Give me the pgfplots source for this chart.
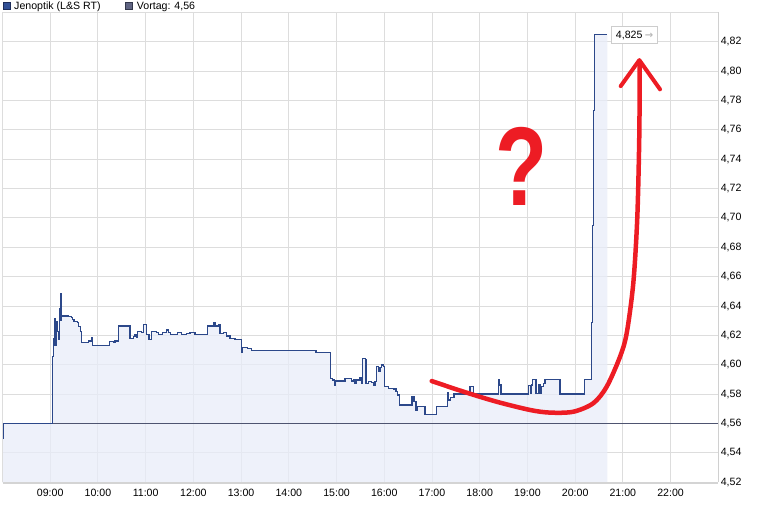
\documentclass[border=0pt]{standalone}
\usepackage{pgfplots}
\pgfplotsset{compat=1.18}
\usepackage{pgfplotstable}
\usepackage{fontspec}
\setmainfont{Liberation Sans}
\newfontfamily\dejavu{DejaVu Sans}
\definecolor{lineblue}{RGB}{44,72,138}
\definecolor{fillblue}{RGB}{232,236,248}
\definecolor{vortag}{RGB}{78,84,112}
\definecolor{gridgray}{RGB}{221,221,221}
\definecolor{rightgray}{RGB}{208,208,208}
\definecolor{bottomgray}{RGB}{212,212,212}
\definecolor{annred}{RGB}{237,28,36}
\definecolor{boxgray}{RGB}{205,205,205}
\definecolor{arrowgray}{RGB}{185,185,185}
\definecolor{sqone}{RGB}{50,80,150}
\definecolor{sqoneb}{RGB}{30,45,90}
\definecolor{sqtwo}{RGB}{95,100,130}
\definecolor{sqtwob}{RGB}{50,55,75}

\pgfplotstableread{
x y
8.000 4.5500
8.010 4.5600
9.045 4.6055
9.066 4.6180
9.087 4.6316
9.101 4.6134
9.122 4.6293
9.149 4.6225
9.170 4.6169
9.191 4.6384
9.212 4.6486
9.226 4.6305
9.240 4.6332
9.380 4.6328
9.450 4.6323
9.471 4.6309
9.499 4.6293
9.569 4.6287
9.589 4.6260
9.639 4.6225
9.659 4.6150
9.799 4.6162
9.869 4.6187
9.890 4.6134
10.239 4.6157
10.323 4.6150
10.358 4.6162
10.428 4.6264
10.672 4.6180
10.742 4.6191
10.777 4.6203
10.812 4.6185
10.833 4.6225
10.917 4.6219
10.952 4.6275
11.022 4.6203
11.070 4.6173
11.126 4.6225
11.231 4.6219
11.266 4.6207
11.357 4.6219
11.441 4.6237
11.475 4.6219
11.525 4.6209
11.664 4.6220
11.755 4.6203
11.860 4.6214
11.930 4.6219
12.034 4.6209
12.293 4.6264
12.418 4.6287
12.453 4.6264
12.523 4.6275
12.558 4.6214
12.628 4.6220
12.698 4.6196
12.768 4.6180
12.873 4.6169
13.012 4.6083
13.033 4.6119
13.131 4.6112
13.222 4.6100
14.570 4.6085
14.877 4.5908
14.919 4.5896
14.954 4.5862
14.982 4.5889
15.177 4.5908
15.317 4.5889
15.352 4.5901
15.387 4.5874
15.422 4.5896
15.492 4.5912
15.527 4.5874
15.548 4.6044
15.604 4.6037
15.617 4.5874
15.666 4.5885
15.736 4.5880
15.771 4.5862
15.806 4.5885
15.841 4.5987
15.876 4.5953
15.911 4.5980
15.946 4.5998
15.980 4.5987
16.001 4.5851
16.085 4.5839
16.204 4.5835
16.246 4.5817
16.274 4.5794
16.316 4.5726
16.581 4.5783
16.623 4.5749
16.665 4.5692
16.700 4.5715
16.854 4.5662
17.090 4.5715
17.322 4.5810
17.343 4.5760
17.392 4.5778
17.462 4.5801
17.797 4.5851
17.867 4.5801
18.391 4.5901
18.412 4.5862
18.447 4.5801
19.020 4.5858
19.055 4.5805
19.090 4.5862
19.111 4.5901
19.180 4.5805
19.229 4.5862
19.264 4.5805
19.299 4.5851
19.334 4.5874
19.369 4.5901
19.683 4.5801
20.200 4.5901
20.347 4.6290
20.360 4.6950
20.381 4.7730
20.406 4.8250
20.674 4.8250
}\pricedata

\begin{document}
\begin{tikzpicture}
\path[use as bounding box] (-2.5pt,-34.8pt) rectangle (757.5pt,482.2pt);
\begin{axis}[
  at={(0pt,0pt)}, anchor=south west,
  scale only axis, width=715.8pt, height=469.8pt,
  xmin=8, xmax=23, ymin=4.52, ymax=4.84,
  axis on top=false,
  axis line style={draw=none},
  major tick length=0pt,
  xtick={9,10,11,12,13,14,15,16,17,18,19,20,21,22},
  xticklabels={09:00,10:00,11:00,12:00,13:00,14:00,15:00,16:00,17:00,18:00,19:00,20:00,21:00,22:00},
  ytick={4.52,4.54,4.56,4.58,4.60,4.62,4.64,4.66,4.68,4.70,4.72,4.74,4.76,4.78,4.80,4.82},
  yticklabels={{4,52},{4,54},{4,56},{4,58},{4,60},{4,62},{4,64},{4,66},{4,68},{4,70},{4,72},{4,74},{4,76},{4,78},{4,80},{4,82}},
  yticklabel pos=right,
  grid=major,
  major grid style={draw=gridgray, line width=0.9pt},
  tick label style={font=\fontsize{10.6}{12}\selectfont, text=black},
  xticklabel style={yshift=-3pt},
  yticklabel style={xshift=-1pt},
]
\addplot[const plot, fill=fillblue, fill opacity=0.75, draw=none] table {\pricedata}
  -- (axis cs:20.674,4.50) -- (axis cs:8,4.50) -- cycle;
\addplot[vortag, line width=1.3pt] coordinates {(8,4.56) (23,4.56)};
\addplot[const plot, lineblue, line width=1.1pt] table {\pricedata};
% hand-drawn annotation
\addplot[annred, line width=4.5pt, smooth, line cap=round] coordinates {
 (16.995,4.5889) (17.657,4.5817) (18.357,4.5748) (19.055,4.5692) (19.474,4.5674)
 (19.962,4.5680) (20.381,4.5738) (20.662,4.5851) (20.941,4.6055) (21.081,4.6216)
 (21.219,4.6557) (21.303,4.7008) (21.345,4.7578) (21.352,4.8050)};
\addplot[annred, line width=4pt, line cap=round, line join=round] coordinates {
 (20.955,4.7898) (21.345,4.8075) (21.779,4.7876)};
\node[inner sep=0pt, text=annred] at (axis cs:18.88,4.7354)
  {\scalebox{0.76}[1]{\fontsize{112}{112}\selectfont\bfseries ?}};
\node[anchor=west, draw=boxgray, fill=white, line width=0.8pt, inner xsep=4.5pt,
  inner ysep=0pt, minimum height=17pt, font=\fontsize{10.6}{12}\selectfont]
  at (axis cs:20.752,4.8244) {4,825\hspace{2.5pt}\textcolor{arrowgray}{\dejavu\bfseries\fontsize{10}{12}\selectfont →}};
\end{axis}
% frame
\draw[gridgray, line width=0.9pt] (0pt,0pt) -- (0pt,469.8pt) -- (715.8pt,469.8pt);
\draw[rightgray, line width=1.3pt] (715.8pt,0pt) -- (715.8pt,469.8pt);
\draw[bottomgray, line width=2pt] (0pt,-0.5pt) -- (715.8pt,-0.5pt);
% legend
\filldraw[fill=sqone, draw=sqoneb, line width=0.7pt] (0.6pt,472.9pt) rectangle (7.8pt,480.1pt);
\node[anchor=base west, inner sep=0pt, font=\fontsize{10.6}{12}\selectfont] at (11.5pt,472.2pt) {Jenoptik (L\&S RT)};
\filldraw[fill=sqtwo, draw=sqtwob, line width=0.7pt] (122.6pt,472.9pt) rectangle (129.8pt,480.1pt);
\node[anchor=base west, inner sep=0pt, font=\fontsize{10.6}{12}\selectfont] at (134.2pt,472.2pt) {Vortag: 4,56};
\end{tikzpicture}
\end{document}
